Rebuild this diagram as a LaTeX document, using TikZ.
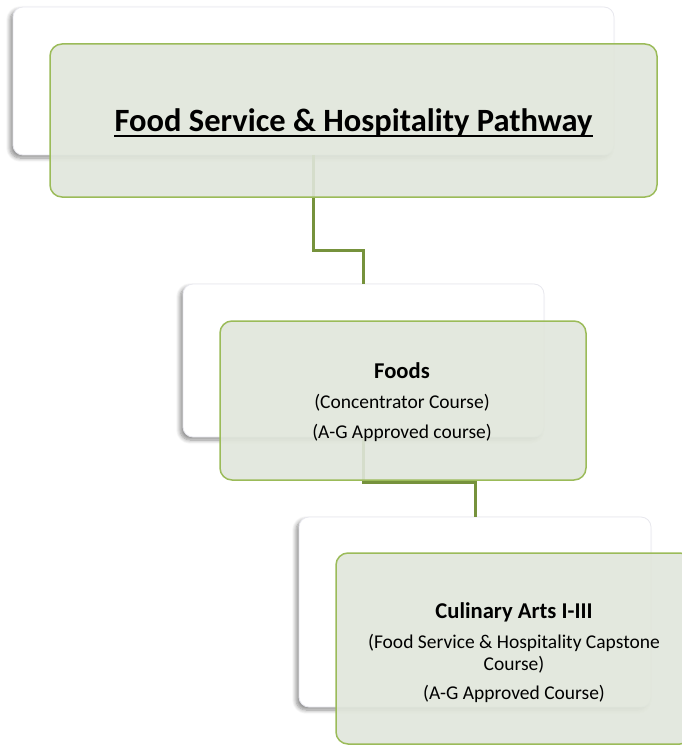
\documentclass[tikz,border=0pt]{standalone}
\usepackage{fontspec}
\setmainfont{Carlito}
\usetikzlibrary{shadows.blur}
\definecolor{boxfill}{RGB}{224,230,219}
\definecolor{boxline}{RGB}{155,187,89}
\definecolor{conn}{RGB}{118,146,60}
\definecolor{backline}{RGB}{232,232,238}
\definecolor{shadowc}{RGB}{170,170,195}
\newcommand{\myheadfont}{\fontsize{22.6}{25}\selectfont\bfseries}
\begin{document}
\begin{tikzpicture}[x=1pt,y=-1pt,
  backbox/.style={draw=backline, fill=white, rounded corners=10pt, line width=0.8pt,
    inner sep=0pt, outer sep=0pt,
    blur shadow={shadow xshift=-3pt, shadow yshift=-3pt, shadow blur steps=8,
      shadow opacity=45, shadow blur radius=4pt, shadow scale=1}},
  frontbox/.style={draw=boxline, fill=boxfill, fill opacity=0.9, text opacity=1,
    rounded corners=12pt, line width=1.5pt, inner sep=0pt, outer sep=0pt, align=center},
  connector/.style={draw=conn, line width=3pt},
  bodytext/.style={font=\fontsize{19.5}{22}\selectfont, align=center, inner sep=0pt},
]
\useasboundingbox (0,0) rectangle (681,746);

% back (white) boxes
\node[backbox, minimum width=601pt, minimum height=148pt] (w1) at (313.5,81) {};
\node[backbox, minimum width=361pt, minimum height=153pt] (w2) at (363.5,360.5) {};
\node[backbox, minimum width=352pt, minimum height=190pt] (w3) at (475,612) {};

% connectors
\draw[connector] (w1.south) -- ++(0,95) -| (w2.north);
\draw[connector] (w2.south) -- ++(0,45) -| (w3.north);

% front (green) boxes
\node[frontbox, minimum width=607pt, minimum height=153pt] (g1) at (353.5,120.5) {};
\node[frontbox, minimum width=366pt, minimum height=159pt] (g2) at (403,400.5) {};
\node[frontbox, minimum width=356pt, minimum height=191pt] (g3) at (514,648.5) {};

% texts
\node[inner sep=0pt, font=\fontsize{32.5}{38}\selectfont\bfseries, anchor=base] (t1) at (353.5,132) {Food Service \& Hospitality Pathway};
\draw[line width=1.8pt] ([yshift=-4pt]t1.base west) -- ([yshift=-4pt]t1.base east);

\node[bodytext] (t2) at (402,402) {{\myheadfont Foods}\\[8pt]
  (Concentrator Course)\\[8pt] (A-G Approved course)};

\node[bodytext] (t3) at (514,653) {{\myheadfont Culinary Arts I-III}\\[8pt]
  (Food Service \& Hospitality Capstone\\ Course)\\[7pt] (A-G Approved Course)};
\end{tikzpicture}
\end{document}
